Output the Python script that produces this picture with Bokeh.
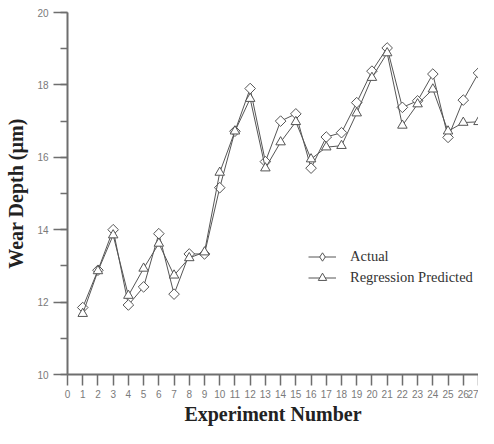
import math
from bokeh.plotting import figure
from bokeh.models import SingleIntervalTicker, Legend, LegendItem, ColumnDataSource
from bokeh.embed import file_html
from bokeh.resources import INLINE

experiments = list(range(1, 28))
actual = [11.85, 12.88, 14.0, 11.92, 12.42, 13.89, 12.22, 13.33, 13.33, 15.16,
          16.72, 17.9, 15.88, 17.0, 17.2, 15.7, 16.56, 16.68, 17.51, 18.38,
          19.02, 17.38, 17.56, 18.3, 16.55, 17.58, 18.33]
predicted = [11.68, 12.86, 13.85, 12.18, 12.93, 13.62, 12.74, 13.22, 13.38, 15.58,
             16.72, 17.62, 15.7, 16.42, 16.98, 15.95, 16.28, 16.32, 17.22, 18.2,
             18.88, 16.88, 17.47, 17.88, 16.72, 16.96, 16.98]
series_labels = ["Actual", "Regression Predicted"]

src = ColumnDataSource(dict(x=experiments, a=actual, p=predicted))

LINE = "#555555"
AXIS = "#6e6e6e"

p = figure(width=478, height=428, output_backend="svg", toolbar_location=None,
           x_range=(0, 27.0), y_range=(10, 20),
           min_border_left=67, min_border_right=0, min_border_top=12, min_border_bottom=54,
           background_fill_color="white", border_fill_color="white")
p.outline_line_color = None
p.grid.visible = False

# series
la = p.line("x", "a", source=src, line_color=LINE, line_width=1)
sa = p.scatter("x", "a", source=src, marker="square", angle=math.pi / 4, size=7.5,
               fill_color="white", line_color=LINE, line_width=1)
lp = p.line("x", "p", source=src, line_color=LINE, line_width=1)
sp = p.scatter("x", "p", source=src, marker="triangle", size=9.5,
               fill_color="white", line_color=LINE, line_width=1)

# legend-only key (draws nothing in the plot): a diamond for the "Actual" entry
nan = float("nan")
key_a = p.scatter(x=[nan], y=[nan], marker="diamond", fill_color="white",
                  line_color=LINE, line_width=1)

# axes
p.xaxis.ticker = SingleIntervalTicker(interval=1, num_minor_ticks=0)
p.yaxis.ticker = SingleIntervalTicker(interval=2, num_minor_ticks=2)
for ax in (p.xaxis, p.yaxis):
    ax.axis_line_color = AXIS
    ax.axis_line_width = 2
    ax.major_tick_line_color = AXIS
    ax.major_tick_line_width = 1.5
    ax.minor_tick_line_color = AXIS
    ax.minor_tick_line_width = 1.5
    ax.major_tick_in = 0
    ax.minor_tick_in = 0
    ax.major_label_text_font = "Liberation Sans"
    ax.major_label_text_font_size = "10px"
    ax.major_label_text_color = "#7a7a7a"
    ax.axis_label_text_font = "Liberation Serif"
    ax.axis_label_text_font_style = "bold"
    ax.axis_label_text_font_size = "20px"
    ax.axis_label_text_color = "#222222"

p.xaxis.major_tick_out = 11
p.xaxis.major_label_standoff = 4
p.xaxis.axis_label_standoff = 2
p.xaxis.axis_label = "Experiment Number"

p.yaxis.major_tick_out = 14
p.yaxis.minor_tick_out = 7
p.yaxis.major_label_standoff = 5
p.yaxis.axis_label_standoff = 7
p.yaxis.axis_label = "Wear Depth (µm)"

legend = Legend(items=[LegendItem(label=series_labels[0], renderers=[la, key_a]),
                       LegendItem(label=series_labels[1], renderers=[lp, sp])],
                location=(241, 86), padding=0, margin=0, spacing=0,
                glyph_width=28, glyph_height=21, label_height=20,
                label_standoff=14, border_line_color=None,
                background_fill_alpha=0,
                label_text_font="Liberation Serif", label_text_font_size="14.5px",
                label_text_color="#333333")
p.add_layout(legend)

open("out.html", "w").write(file_html(p, INLINE))
